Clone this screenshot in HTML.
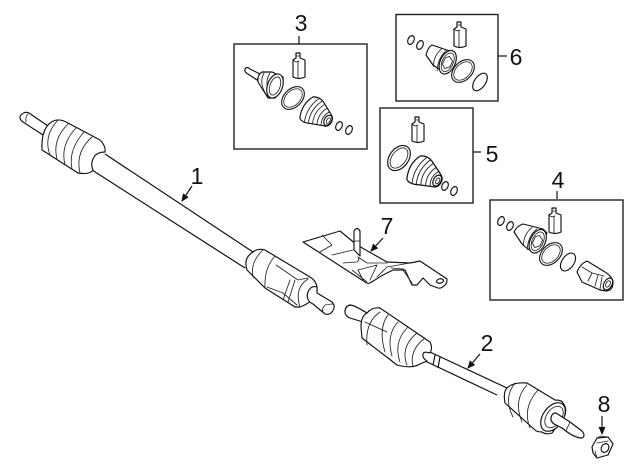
<!DOCTYPE html>
<html><head><meta charset="utf-8"><style>
html,body{margin:0;padding:0;background:#fff}
svg{display:block}
text{font-family:"Liberation Sans",sans-serif;font-size:23px;fill:#111;text-anchor:middle}
.l{fill:#fff;stroke:#111;stroke-width:1.15;stroke-linejoin:round;stroke-linecap:round}
.t{fill:none;stroke:#222;stroke-width:.85;stroke-linecap:round;stroke-linejoin:round}
.b{fill:#fff;stroke:#222;stroke-width:1.4}
.a{fill:none;stroke:#111;stroke-width:1.2}
</style></head><body>
<svg width="640" height="471" viewBox="0 0 640 471" xmlns="http://www.w3.org/2000/svg">
<defs>
<marker id="m" markerWidth="9" markerHeight="9" refX="7" refY="3.5" orient="auto" markerUnits="userSpaceOnUse"><path d="M0 0L8 3.5L0 7Z" fill="#111"/></marker>
<g id="bot"><path class="l" d="M3 0h4v5l5 2v17q-6 3-12 0V7l3-2Z"/><path class="t" d="M0 7q3 3 6 1M5 9v16M3 3h4"/></g>
<g id="o"><ellipse class="l" cx="0" cy="0" rx="3" ry="4.6" transform="rotate(25)"/></g>
<g id="r"><ellipse class="l" rx="14" ry="9.5"/><ellipse class="t" rx="11.5" ry="7.5"/></g>
<g id="boot">
<path class="l" d="M2 13Q-4 0 2 -12Q8 -16 14 -13L26 -7Q31 -5 31 0Q31 6 26 7L14 12Q6 16 2 13Z"/>
<path class="t" d="M8 -14Q2 0 8 14M12 -13.500Q6 0 12 13M16 -12Q10 0 16 11.500M20 -10Q15 0 20 9.500M24 -8Q19 0 24 8"/>
<ellipse class="l" cx="27" cy="0" rx="3.500" ry="5.500"/><ellipse class="t" cx="27.500" cy="0" rx="1.600" ry="3"/>
</g>
<g id="cup">
<path class="t" d="M-8 -10Q-13 0 -8 10M-3 -11Q-8 0 -3 12"/>
<ellipse class="l" cx="3" cy="0" rx="7.500" ry="12.500"/>
<ellipse class="t" cx="3" cy="0" rx="5.500" ry="10"/>
<path class="t" d="M2 -6L7 -3L7 3L3 7L-1 4L-1 -3Z"/>
</g>
</defs>

<!-- shaft 1 -->
<path class="a" d="M105 154L253 252M92 170L245 268"/>
<path class="l" d="M29 113L48 126L43 135L23 122Q18 118 21 115Q25 111 29 113Z"/><path class="t" d="M28 114q-3 3-2 8"/>
<path class="l" d="M42 150Q41 133 48 125Q56 116 68 123L100 140Q106 146 105 152Q97 152 94 157Q90 164 93 170Q90 175 78 173Z"/>
<path class="t" d="M58 120Q43 136 50 155M68 124Q52 140 57 159M76 128Q60 145 65 165M84 132Q68 150 72 169M92 137Q75 152 80 173"/>

<!-- joint 1 -->
<path class="l" d="M247 270Q243 258 253 252Q258 248 265 250L310 277Q318 282 317 291Q314 302 300 307L295 307L265 288Z"/>
<path class="t" d="M263 250Q250 262 253 277M275 256Q264 268 265 288M276 265L298 280L308 278M308 279Q294 288 300 307M290 280L283 300M295 280L288 302M267 287L283 293L297 305"/>
<path class="l" d="M317 287Q311 285 308 292Q305 300 313 304L325 314Q329 315 331 313Q335 309 334 305L332 302L317 293Z"/>
<path class="t" d="M325 305Q321 310 323 311M325 305Q330 304 333 304"/>

<!-- heat shield 7 -->
<path class="l" d="M303 242L340 231L357 245L387 262L410 263L420 261L447 279Q447 284 445 285Q441 289 438 288L430 285L423 278L417 285L412 285L405 270L393 270L383 275L370 283Q367 284 365 282Z"/>
<path class="t" d="M322 235L332 245L320 252M332 255L353 250M343 263L357 262Q360 260 358 257M358 257L367 263L387 263M352 270L367 282M358 270L377 265L370 280M377 277L387 267L410 263M403 270L412 283M391 268L404 269M358 270L363 280"/>
<ellipse class="l" cx="440" cy="281" rx="3.500" ry="2.200" transform="rotate(-10 440 281)"/>
<path class="l" d="M354 231Q357 226 360 231V256L354 250Z"/>
<path class="t" d="M354 241h6"/>

<!-- shaft 2 -->
<path class="a" d="M430 352L507 388M425 361L497 395M435 355L433 365M440 357L438 368"/>
<path class="l" d="M345 312Q345 306 350 305Q354 305 367 313L363 322L350 318Q345 316 345 312Z"/>
<path class="l" d="M361 327Q361 316 367 313Q372 307 380 308L430 342Q433 348 430 353Q424 351 423 354Q422 358 427 361L420 364Q412 369 397 365L362 338Z"/>
<path class="t" d="M365 322L387 332M380 312Q365 322 367 345M388 315Q378 328 385 352M398 322Q386 335 392 356M408 327Q393 342 400 362M417 333Q400 347 407 365M425 338Q409 350 413 367"/>

<!-- outer joint 2 -->
<path class="l" d="M505 403Q503 392 507 388Q513 382 527 383L555 400Q562 400 563 403Q567 408 565 415L552 433Q546 435 542 432Q537 432 535 430Z"/>
<path class="t" d="M515 383Q503 398 513 417M527 385Q513 400 522 422M538 390Q522 408 530 428"/>
<ellipse class="l" cx="553" cy="417" rx="10" ry="16" transform="rotate(35 553 417)"/>
<ellipse class="t" cx="554" cy="417" rx="7.500" ry="12" transform="rotate(35 554 417)"/>
<path class="l" d="M556 413L570 422L582 431Q586 436 582 438Q574 438 562 428L554 424Q549 420 552 415Q553 413 556 413Z"/>
<path class="t" d="M570 422L566 431"/>

<!-- nut -->
<path class="l" d="M592 447L597 438L608 437L613 444L608 455L597 458L593 453Z"/>
<path class="t" d="M597 438L601 436L608 437M597 443L608 441M595 451L597 458"/>
<ellipse class="l" cx="605" cy="448" rx="3.600" ry="4.600" transform="rotate(30 605 448)"/>
<path class="a" d="M602 416V434" marker-end="url(#m)"/>

<!-- Box 3 -->
<rect class="b" x="234" y="44" width="133" height="105"/>
<path class="a" d="M299 36V44"/>
<use href="#bot" x="293" y="53"/>
<path class="l" d="M245 69Q247 66 250 69L260 74L257 80L248 74Q244 72 245 69Z"/>
<path class="l" d="M258 82Q257 75 262 72L272 72L283 77Q284 88 275 98L268 98Z"/>
<path class="t" d="M264 73Q258 84 268 97M270 73Q263 84 272 97"/>
<ellipse class="l" cx="275" cy="86" rx="7.500" ry="12.500" transform="rotate(20 275 86)"/>
<ellipse class="t" cx="275" cy="86" rx="5" ry="9.500" transform="rotate(20 275 86)"/>
<use href="#r" transform="translate(293 98) rotate(-45) scale(.95)"/>
<use href="#boot" transform="translate(305 106) rotate(32)"/>
<use href="#o" x="339" y="126"/><use href="#o" x="349" y="130"/>

<!-- Box 6 -->
<rect class="b" x="396" y="14.500" width="102" height="86.500"/>
<path class="a" d="M498 56H507"/>
<use href="#bot" x="454" y="22"/>
<use href="#o" x="411" y="40"/><use href="#o" x="420" y="45"/>
<path class="l" d="M426 55Q428 47 432 45L453 52L455 57L445 73L433 65Z"/>
<use href="#cup" transform="translate(445 61) rotate(25)"/>
<use href="#r" transform="translate(463 71) rotate(-45) scale(.95)"/>
<ellipse class="l" cx="480" cy="82" rx="5.500" ry="10" transform="rotate(35 480 82)"/>

<!-- Box 5 -->
<rect class="b" x="380" y="108" width="93" height="95"/>
<path class="a" d="M473 152H481"/>
<use href="#bot" x="412" y="117"/>
<ellipse class="l" cx="399" cy="158" rx="9.500" ry="14" transform="rotate(37 399 158)"/>
<ellipse class="t" cx="399" cy="158" rx="7" ry="11.500" transform="rotate(37 399 158)"/>
<use href="#boot" transform="translate(412 166) rotate(30) scale(1.08)"/>
<use href="#o" x="445" y="186"/><use href="#o" x="454" y="191"/>

<!-- Box 4 -->
<rect class="b" x="490" y="200" width="133" height="100"/>
<path class="a" d="M557 191V199"/>
<use href="#bot" x="549" y="208"/>
<use href="#o" x="501" y="221"/><use href="#o" x="510" y="226"/>
<path class="l" d="M514 232Q517 226 523 224L543 229L547 233L536 253Q528 250 522 244Z"/>
<use href="#cup" transform="translate(535 240) rotate(25)"/>
<use href="#r" transform="translate(551 254) rotate(-45) scale(.95)"/>
<ellipse class="l" cx="568" cy="262" rx="6" ry="10" transform="rotate(35 568 262)"/>
<path class="l" d="M577 272Q580 264 587 261L605 272Q612 276 613 282Q613 290 607 291L600 290L582 282Z"/>
<path class="t" d="M582 267L592 273L588 281M592 273L604 276M598 275L595 286M602 277L600 289"/>
<ellipse class="l" cx="608" cy="284" rx="4" ry="6.500" transform="rotate(30 608 284)"/>
<ellipse class="t" cx="608" cy="284" rx="2" ry="3.500" transform="rotate(30 608 284)"/>

<!-- callouts -->
<path class="a" d="M192 186L182 201" marker-end="url(#m)"/>
<path class="a" d="M480 354L468 368" marker-end="url(#m)"/>
<path class="a" d="M383 238L371 251" marker-end="url(#m)"/>
<text x="197" y="184">1</text>
<text x="487" y="351">2</text>
<text x="301" y="31">3</text>
<text x="558" y="188">4</text>
<text x="492" y="162">5</text>
<text x="516" y="65">6</text>
<text x="387" y="234">7</text>
<text x="604" y="412">8</text>
</svg>
</body></html>
